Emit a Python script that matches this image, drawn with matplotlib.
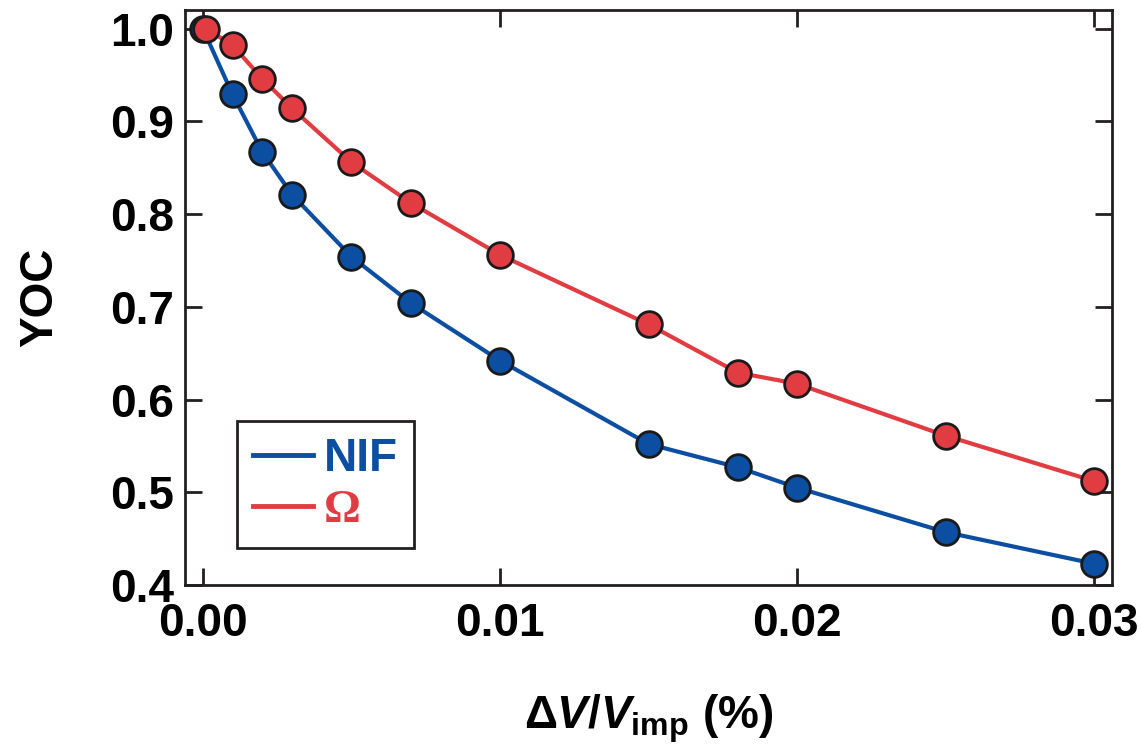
import numpy as np
import matplotlib.pyplot as plt
from matplotlib.lines import Line2D

plt.rcParams['font.family'] = ['Liberation Sans', 'DejaVu Sans']
plt.rcParams['font.weight'] = 'bold'
plt.rcParams['mathtext.fontset'] = 'custom'
plt.rcParams['mathtext.rm'] = 'Liberation Sans:bold'
plt.rcParams['mathtext.it'] = 'Liberation Sans:italic:bold'
plt.rcParams['mathtext.bf'] = 'Liberation Sans:bold'
plt.rcParams['mathtext.sf'] = 'Liberation Sans'

# Velocity perturbation (%) and yield-over-clean
dv = [0.0, 0.001, 0.002, 0.003, 0.005, 0.007, 0.010, 0.015, 0.018, 0.020, 0.025, 0.030]
yoc_nif = [1.0, 0.929, 0.867, 0.821, 0.754, 0.704, 0.642, 0.552, 0.527, 0.505, 0.457, 0.423]
dv_omega = [0.0001, 0.001, 0.002, 0.003, 0.005, 0.007, 0.010, 0.015, 0.018, 0.020, 0.025, 0.030]
yoc_omega = [1.0, 0.982, 0.946, 0.914, 0.856, 0.812, 0.756, 0.681, 0.629, 0.617, 0.561, 0.512]

blue = '#0B4EA2'
red = '#E03C42'
fs = 33

fig = plt.figure(figsize=(11.41, 7.46), dpi=100)
ax = fig.add_axes([185/1141, 1 - 585/746, (1112-185)/1141, (585-10)/746])

ax.plot(dv, yoc_nif, '-o', color=blue, lw=3, ms=18.5, mec='#1a1a1a', mew=2)
ax.plot(dv_omega, yoc_omega, '-o', color=red, lw=3, ms=18.5, mec='#1a1a1a', mew=2)

ax.set_xlim(-0.0006, 0.0306)
ax.set_ylim(0.4, 1.02)
ax.set_xticks([0.0, 0.01, 0.02, 0.03])
ax.set_xticklabels(['0.00', '0.01', '0.02', '0.03'])
ax.set_yticks([0.4, 0.5, 0.6, 0.7, 0.8, 0.9, 1.0])
ax.set_yticklabels(['0.4', '0.5', '0.6', '0.7', '0.8', '0.9', '1.0'])
ax.tick_params(direction='in', top=True, right=True, length=12, width=2,
               labelsize=fs, color='#231f20')
ax.tick_params(axis='x', pad=12)
ax.tick_params(axis='y', pad=8)
for s in ax.spines.values():
    s.set_linewidth(2)
    s.set_color('#231f20')

ax.set_ylabel('YOC', fontsize=fs, fontweight='bold', labelpad=34)
ax.set_xlabel(r'$\mathsf{\Delta}V/V_{\rm imp}$ (%)', fontsize=fs, fontweight='bold', labelpad=34)

handles = [Line2D([], [], color=blue, lw=3.5), Line2D([], [], color=red, lw=3.5)]
leg = ax.legend(handles, ['NIF', 'Ω'], loc='lower left', bbox_to_anchor=(0.056, 0.064),
                borderaxespad=0, fontsize=fs, frameon=True, fancybox=False,
                handlelength=1.3, handletextpad=0.25, borderpad=0.35, labelspacing=0.2)
leg.get_frame().set_edgecolor('#231f20')
leg.get_frame().set_linewidth(2)
leg.get_frame().set_alpha(1)
texts = leg.get_texts()
texts[0].set_color(blue)
texts[0].set_fontweight('bold')
texts[1].set_color(red)
texts[1].set_family(['Liberation Serif', 'DejaVu Serif'])
texts[1].set_fontweight('bold')

fig.savefig('out.png', dpi=100)
